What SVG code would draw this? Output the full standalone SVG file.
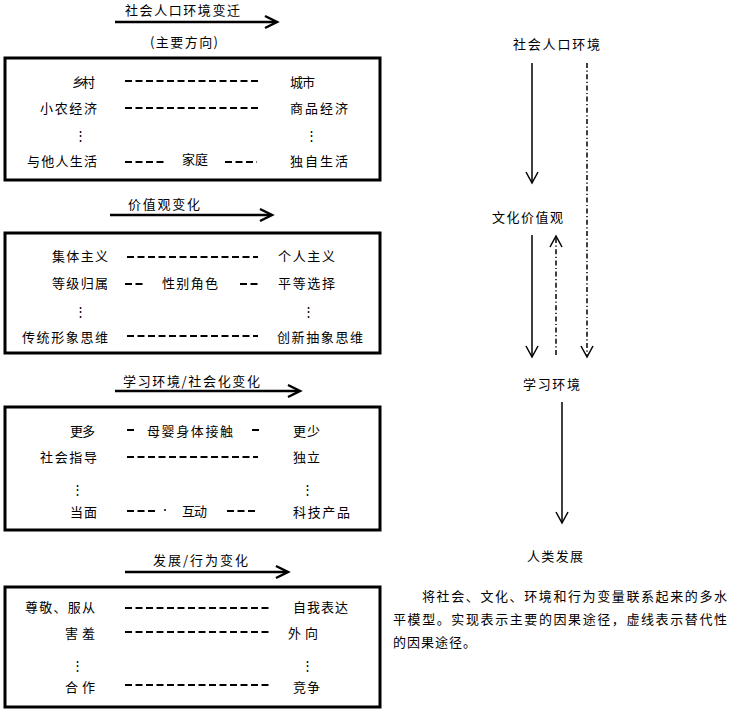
<svg xmlns="http://www.w3.org/2000/svg" width="730" height="712" viewBox="0 0 730 712">
<style>
.t { font-family: "Noto Sans CJK SC", "Noto Sans", sans-serif; font-size: 13px; fill: #000; }
.m { text-anchor: middle; }
.box { fill: none; stroke: #000; stroke-width: 3; }
.dash { stroke: #000; stroke-width: 2; stroke-dasharray: 7 3.5; fill: none; }
.big { stroke: #000; stroke-width: 2.5; fill: none; }
.thin { stroke: #000; stroke-width: 1.5; fill: none; }
.dd { stroke-dasharray: 5 2.5 1.2 2.5; }
</style>
<rect width="730" height="712" fill="#fff"/>

<g id="box-social">
  <text class="t" x="125" y="15" textLength="115" lengthAdjust="spacing">社会人口环境变迁</text>
  <text class="t" x="150" y="47" textLength="68" lengthAdjust="spacing">(主要方向)</text>
  <rect class="box" x="5" y="58" width="375" height="122"/>
  <text class="t" x="72" y="87" textLength="23" lengthAdjust="spacing">乡村</text>
  <text class="t" x="290" y="87" textLength="25" lengthAdjust="spacing">城市</text>
  <text class="t" x="40" y="113" textLength="57" lengthAdjust="spacing">小农经济</text>
  <text class="t" x="290" y="113" textLength="58" lengthAdjust="spacing">商品经济</text>
  <text class="t m" x="80" y="140">⋮</text>
  <text class="t m" x="311" y="140">⋮</text>
  <text class="t" x="27" y="166" textLength="70" lengthAdjust="spacing">与他人生活</text>
  <text class="t" x="182" y="164" textLength="26" lengthAdjust="spacing">家庭</text>
  <text class="t" x="290" y="166" textLength="58" lengthAdjust="spacing">独自生活</text>
  <line class="dash" x1="125" y1="81" x2="258" y2="81"/>
  <line class="dash" x1="125" y1="108" x2="258" y2="108"/>
  <line class="dash" x1="125" y1="162" x2="164" y2="162"/>
  <line class="dash" x1="225" y1="162" x2="257" y2="162"/>
</g>

<g id="box-values">
  <text class="t" x="128" y="209" textLength="72" lengthAdjust="spacing">价值观变化</text>
  <rect class="box" x="5" y="233" width="375" height="120"/>
  <text class="t" x="52" y="261" textLength="56" lengthAdjust="spacing">集体主义</text>
  <text class="t" x="278" y="261" textLength="57" lengthAdjust="spacing">个人主义</text>
  <text class="t" x="52" y="288" textLength="56" lengthAdjust="spacing">等级归属</text>
  <text class="t" x="162" y="288" textLength="56" lengthAdjust="spacing">性别角色</text>
  <text class="t" x="278" y="288" textLength="57" lengthAdjust="spacing">平等选择</text>
  <text class="t m" x="80" y="316">⋮</text>
  <text class="t m" x="308" y="316">⋮</text>
  <text class="t" x="22" y="342" textLength="86" lengthAdjust="spacing">传统形象思维</text>
  <text class="t" x="277" y="342" textLength="86" lengthAdjust="spacing">创新抽象思维</text>
  <line class="dash" x1="127" y1="257" x2="258" y2="257"/>
  <line class="dash" x1="125" y1="284" x2="143" y2="284"/>
  <line class="dash" x1="240" y1="284" x2="258" y2="284"/>
  <line class="dash" x1="127" y1="336" x2="258" y2="336"/>
</g>

<g id="box-learning">
  <text class="t" x="123" y="386" textLength="137" lengthAdjust="spacing">学习环境/社会化变化</text>
  <rect class="box" x="5" y="407" width="375" height="123"/>
  <text class="t" x="70" y="436" textLength="25" lengthAdjust="spacing">更多</text>
  <text class="t" x="147" y="436" textLength="86" lengthAdjust="spacing">母婴身体接触</text>
  <text class="t" x="293" y="436" textLength="27" lengthAdjust="spacing">更少</text>
  <text class="t" x="40" y="462" textLength="57" lengthAdjust="spacing">社会指导</text>
  <text class="t" x="293" y="462" textLength="27" lengthAdjust="spacing">独立</text>
  <text class="t m" x="77" y="494">⋮</text>
  <text class="t m" x="307" y="494">⋮</text>
  <text class="t" x="70" y="517" textLength="27" lengthAdjust="spacing">当面</text>
  <text class="t" x="182" y="516" textLength="25" lengthAdjust="spacing">互动</text>
  <text class="t" x="293" y="517" textLength="57" lengthAdjust="spacing">科技产品</text>
  <line class="dash" x1="127" y1="430" x2="134" y2="430"/>
  <line class="dash" x1="252" y1="430" x2="259" y2="430"/>
  <line class="dash" x1="127" y1="457" x2="258" y2="457"/>
  <line class="dash" x1="127" y1="511" x2="158" y2="511"/>
  <circle cx="165" cy="510" r="1"/>
  <line class="dash" x1="227" y1="511" x2="258" y2="511"/>
</g>

<g id="box-behavior">
  <text class="t" x="153" y="565" textLength="95" lengthAdjust="spacing">发展/行为变化</text>
  <rect class="box" x="5" y="587" width="375" height="120"/>
  <text class="t" x="25" y="612" textLength="70" lengthAdjust="spacing">尊敬、服从</text>
  <text class="t" x="293" y="612" textLength="55" lengthAdjust="spacing">自我表达</text>
  <text class="t" x="65" y="638" textLength="30" lengthAdjust="spacing">害羞</text>
  <text class="t" x="288" y="638" textLength="30" lengthAdjust="spacing">外向</text>
  <text class="t m" x="77" y="670">⋮</text>
  <text class="t m" x="307" y="670">⋮</text>
  <text class="t" x="65" y="692" textLength="30" lengthAdjust="spacing">合作</text>
  <text class="t" x="293" y="692" textLength="27" lengthAdjust="spacing">竞争</text>
  <line class="dash" x1="125" y1="608" x2="270" y2="608"/>
  <line class="dash" x1="125" y1="632" x2="270" y2="632"/>
  <line class="dash" x1="125" y1="685" x2="270" y2="685"/>
</g>

<g id="n-social">
  <text class="t" x="513" y="49" textLength="87" lengthAdjust="spacing">社会人口环境</text>
</g>
<g id="n-culture">
  <text class="t" x="492" y="222" textLength="71" lengthAdjust="spacing">文化价值观</text>
</g>
<g id="n-learning">
  <text class="t" x="523" y="389" textLength="57" lengthAdjust="spacing">学习环境</text>
</g>
<g id="n-human">
  <text class="t" x="527" y="561" textLength="56" lengthAdjust="spacing">人类发展</text>
</g>

<g id="caption">
  <text class="t" x="422" y="601" textLength="305" lengthAdjust="spacing">将社会、文化、环境和行为变量联系起来的多水</text>
  <text class="t" x="393" y="624" textLength="334" lengthAdjust="spacing">平模型。实现表示主要的因果途径，虚线表示替代性</text>
  <text class="t" x="393" y="647" textLength="83" lengthAdjust="spacing">的因果途径。</text>
</g>

<g id="connectors">
  <!-- horizontal direction arrows -->
  <line class="big" x1="115" y1="22" x2="276" y2="22"/>
  <polyline class="big" points="265,16 277,22 265,28"/>
  <line class="big" x1="110" y1="215" x2="271" y2="215"/>
  <polyline class="big" points="260,209 272,215 260,221"/>
  <line class="big" x1="115" y1="391" x2="299" y2="391"/>
  <polyline class="big" points="288,385 300,391 288,397"/>
  <line class="big" x1="125" y1="572" x2="287" y2="572"/>
  <polyline class="big" points="276,566 288,572 276,578"/>
  <!-- right flow -->
  <line class="thin" x1="532" y1="63" x2="532" y2="182"/>
  <polyline class="thin" points="526,172 532,183 538,172"/>
  <line class="thin dd" x1="587" y1="63" x2="587" y2="356"/>
  <polyline class="thin" points="581,346 587,357 593,346"/>
  <line class="thin" x1="532" y1="235" x2="532" y2="356"/>
  <polyline class="thin" points="526,346 532,357 538,346"/>
  <line class="thin dd" x1="556" y1="355" x2="556" y2="238"/>
  <polyline class="thin" points="550,247 556,236 562,247"/>
  <line class="thin" x1="562" y1="402" x2="562" y2="522"/>
  <polyline class="thin" points="556,512 562,523 568,512"/>
</g>
</svg>
